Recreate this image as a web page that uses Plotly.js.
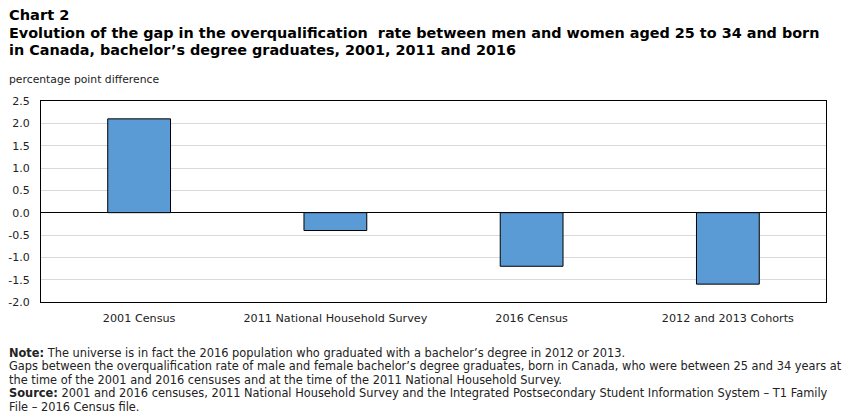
<!DOCTYPE html>
<html>
<head>
<meta charset="utf-8">
<script src="https://cdn.plot.ly/plotly-3.0.1.min.js"></script>
<style>html,body{margin:0;padding:0;background:#fff;}#chart{width:851px;height:418px;}</style>
</head>
<body>
<div id="chart"></div>
<script>
// Gap in overqualification rate (men minus women), percentage points
const categories = ["2001 Census", "2011 National Household Survey", "2016 Census", "2012 and 2013 Cohorts"];
const gapValues = [2.1, -0.4, -1.2, -1.6];
const yTicks = [2.5, 2.0, 1.5, 1.0, 0.5, 0.0, -0.5, -1.0, -1.5, -2.0];

const W = 851, H = 418;
const M = {l: 41, r: 25, t: 101, b: 116};
const PW = W - M.l - M.r, PH = H - M.t - M.b;
const px = x => (x - M.l) / PW;
const py = y => (H - M.b - y) / PH;

const headFont = "'DejaVu Sans', Verdana, sans-serif";
const bodyFont = "'DejaVu Sans', Verdana, sans-serif";
const tickFont = "'DejaVu Sans', Verdana, sans-serif";

function text(t, x, y, size, family, color) {
  return {text: t, xref: 'paper', yref: 'paper', x: px(x), y: py(y),
          xanchor: 'left', yanchor: 'middle', showarrow: false, borderpad: 0,
          font: {size: size, family: family, color: color || '#000'}};
}

const annotations = [
  text('<b>Chart 2</b>', 8, 15, 14.6, headFont),
  text('<b>Evolution of the gap in the overqualification  rate between men and women aged 25 to 34 and born</b>', 8, 33, 14.4, headFont),
  text('<b>in Canada, bachelor’s degree graduates, 2001, 2011 and 2016</b>', 8, 50, 14.4, headFont),
  text('percentage point difference', 8, 80, 10.8, bodyFont, '#222'),
  text('<b>Note:</b> The universe is in fact the 2016 population who graduated with a bachelor’s degree in 2012 or 2013.', 8, 352.5, 11.4, bodyFont, '#222'),
  text('Gaps between the overqualification rate of male and female bachelor’s degree graduates, born in Canada, who were between 25 and 34 years at', 8, 366, 11.4, bodyFont, '#222'),
  text('the time of the 2001 and 2016 censuses and at the time of the 2011 National Household Survey.', 8, 379.5, 11.4, bodyFont, '#222'),
  text('<b>Source:</b> 2001 and 2016 censuses, 2011 National Household Survey and the Integrated Postsecondary Student Information System – T1 Family', 8, 393, 11.4, bodyFont, '#222'),
  text('File – 2016 Census file.', 8, 406.5, 11.4, bodyFont, '#222')
];

const trace = {
  type: 'bar',
  x: categories,
  y: gapValues,
  marker: {color: '#5b9bd5', line: {color: '#000', width: 1}},
  hoverinfo: 'x+y'
};

const layout = {
  width: W, height: H,
  margin: M,
  paper_bgcolor: '#fff', plot_bgcolor: '#fff',
  showlegend: false,
  bargap: 0.68,
  xaxis: {
    type: 'category',
    showline: true, mirror: true, linecolor: '#000', linewidth: 1,
    ticks: 'outside', ticklen: 6, tickcolor: 'rgba(0,0,0,0)',
    showgrid: false,
    tickfont: {family: tickFont, size: 11.2, color: '#222'}
  },
  yaxis: {
    range: [-2.0, 2.5],
    tickvals: yTicks,
    ticktext: yTicks.map(v => v.toFixed(1)),
    showline: true, mirror: true, linecolor: '#000', linewidth: 1,
    ticks: 'outside', ticklen: 8, tickcolor: 'rgba(0,0,0,0)',
    showgrid: true, gridcolor: '#d9d9d9', gridwidth: 1,
    zeroline: true, zerolinecolor: '#000', zerolinewidth: 1,
    tickfont: {family: tickFont, size: 11, color: '#222'}
  },
  annotations: annotations
};

Plotly.newPlot('chart', [trace], layout, {staticPlot: true});
</script>
</body>
</html>
